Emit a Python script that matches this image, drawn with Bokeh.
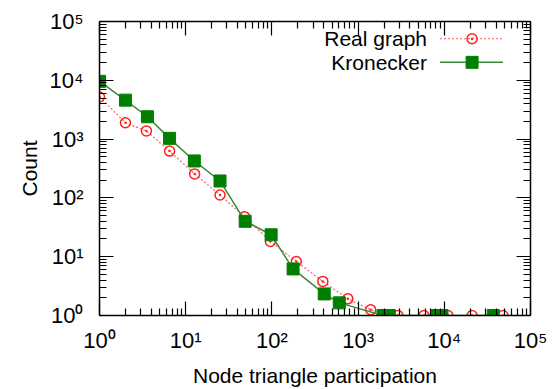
from bokeh.plotting import figure
from bokeh.models import FixedTicker, LogAxis, CustomJSTickFormatter, Range1d
from bokeh.core.properties import value
from bokeh.embed import file_html
from bokeh.resources import INLINE

# ---- data ----
real_x = [1, 2, 3.5, 6.5, 12.7, 25, 48, 96, 192, 390, 760, 1400, 2900, 5800, 11000, 21000, 48000]
real_y = [5200, 1900, 1380, 625, 256, 112, 48, 18.2, 8.3, 3.8, 1.92, 1.25, 1, 1, 1, 1, 1]

kron_x = [1, 2, 3.6, 6.5, 12.6, 25, 49, 98, 176, 405, 605, 1950, 2300, 8300, 9400, 37000]
kron_y = [9600, 4600, 2400, 1030, 425, 194, 40, 23.6, 6.2, 2.33, 1.64, 1, 1, 1, 1, 1]

major_ticks = [1, 10, 100, 1000, 10000, 100000]
minor_ticks = [m * d for d in [1, 10, 100, 1000, 10000] for m in range(2, 10)]

legend_labels = ["Real graph", "Kronecker"]

FONT = "Liberation Sans"
RED = "#ff2020"
GREEN = "#008000"
LGREEN = "#3a8a3a"

p = figure(width=551, height=389, x_axis_type="log", y_axis_type="log",
           x_range=Range1d(1, 1e5), y_range=Range1d(1, 1e5),
           output_backend="svg", toolbar_location=None,
           min_border_left=99, min_border_right=21, min_border_top=21, min_border_bottom=73)
p.grid.visible = False
p.outline_line_color = None
p.background_fill_color = "white"
p.border_fill_color = "white"

fmt = CustomJSTickFormatter(code="""
const sup = ['\u2070','\u00b9','\u00b2','\u00b3','\u2074','\u2075'];
return '10' + sup[Math.round(Math.log10(tick))];
""")
blank = CustomJSTickFormatter(code="return '';")

def style_axis(ax, labels=True):
    ax.ticker = FixedTicker(ticks=major_ticks, minor_ticks=minor_ticks)
    ax.axis_line_color = "black"
    ax.axis_line_width = 1.5
    ax.major_tick_line_color = "black"
    ax.major_tick_line_width = 1.2
    ax.minor_tick_line_color = "black"
    ax.minor_tick_line_width = 1.2
    ax.major_tick_in = 14
    ax.major_tick_out = 0
    ax.minor_tick_in = 7
    ax.minor_tick_out = 0
    if labels:
        ax.formatter = fmt
        ax.major_label_text_font = FONT
        ax.major_label_text_font_size = "22px"
        ax.major_label_text_color = "black"
        ax.axis_label_text_font = FONT
        ax.axis_label_text_font_size = "21px"
        ax.axis_label_text_font_style = "normal"
        ax.axis_label_text_color = "black"
    else:
        ax.formatter = blank
        ax.major_label_text_font_size = "0px"
        ax.major_label_standoff = 0

xa = p.xaxis[0]
ya = p.yaxis[0]
style_axis(xa)
style_axis(ya)
xa.axis_label = "Node triangle participation"
ya.axis_label = "Count"
xa.major_label_standoff = 12
ya.major_label_standoff = 16
xa.axis_label_standoff = 8
ya.axis_label_standoff = 6

top = LogAxis()
right = LogAxis()
style_axis(top, labels=False)
style_axis(right, labels=False)
p.add_layout(top, "above")
p.add_layout(right, "right")

# ---- series ----
p.line(real_x, real_y, line_color=RED, line_width=1.2, line_dash="2 2", line_alpha=0.7)
p.scatter(real_x, real_y, marker="circle_dot", size=10, line_color=RED, line_width=1.5,
          fill_color=None)

p.line(kron_x, kron_y, line_color=LGREEN, line_width=1.5)
p.scatter(kron_x, kron_y, marker="square", size=12, line_color=GREEN, fill_color=GREEN)

# ---- manual legend (label left, sample right) ----
leg_text_x = [6300, 6300]
leg_y = [51000, 20200]
leg_line_x0 = 8900
leg_line_x1 = 48000
leg_mark_x = 21000

p.text(x=leg_text_x, y=leg_y, text=legend_labels, text_align="right", text_baseline="middle",
       text_font=value(FONT), text_font_size="21px", text_color="black")
p.line([leg_line_x0, leg_line_x1], [leg_y[0]] * 2, line_color=RED, line_width=1.2,
       line_dash="2 2", line_alpha=0.6)
p.scatter([leg_mark_x], [leg_y[0]], marker="circle_dot", size=10, line_color=RED,
          line_width=1.5, fill_color=None)
p.line([leg_line_x0, leg_line_x1], [leg_y[1]] * 2, line_color=LGREEN, line_width=1.5)
p.scatter([leg_mark_x], [leg_y[1]], marker="square", size=12, line_color=GREEN, fill_color=GREEN)

open("out.html", "w").write(file_html(p, INLINE))
